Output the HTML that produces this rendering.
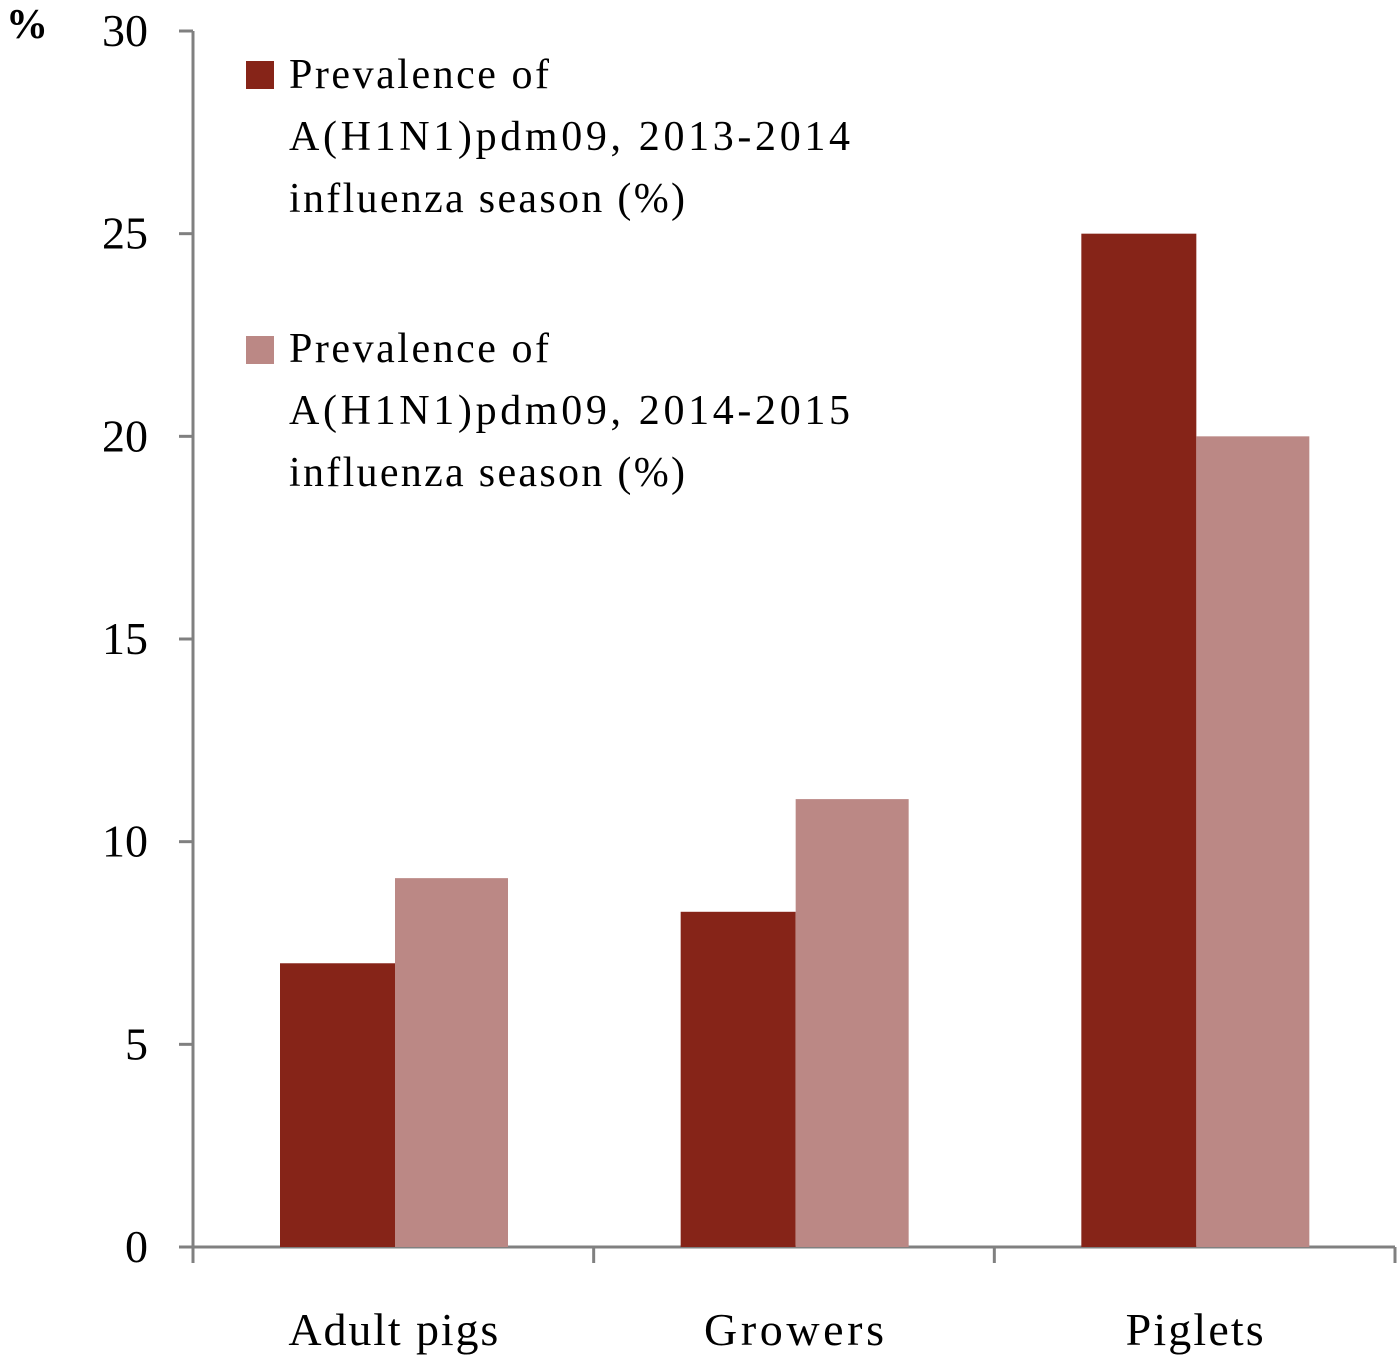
<!DOCTYPE html>
<html><head><meta charset="utf-8"><style>
body{margin:0;background:#fff;}
svg{display:block;font-family:"Liberation Serif",serif;}
</style></head><body>
<svg id="chart" width="1400" height="1367">
<g id="axes"></g><g id="bars"></g>
<text x="6" y="38" font-size="42" font-weight="bold" fill="#000" textLength="40">%</text>
<g>
<rect x="246" y="61" width="28" height="28" fill="#862418"/>
<text font-size="42" fill="#000"><tspan x="289" y="88" textLength="260">Prevalence of</tspan><tspan x="289" y="150" textLength="561">A(H1N1)pdm09, 2013-2014</tspan><tspan x="289" y="212" textLength="396">influenza season (%)</tspan></text>
<rect x="246" y="336" width="28" height="28" fill="#bb8885"/>
<text font-size="42" fill="#000"><tspan x="289" y="362" textLength="260">Prevalence of</tspan><tspan x="289" y="424" textLength="561">A(H1N1)pdm09, 2014-2015</tspan><tspan x="289" y="486" textLength="396">influenza season (%)</tspan></text>
</g>
</svg>
<script>
const categories = ["Adult pigs","Growers","Piglets"];
const season1 = [7.0, 8.27, 25.0];
const season2 = [9.1, 11.05, 20.0];
const yTicks = [0,5,10,15,20,25,30];
const NS="http://www.w3.org/2000/svg";
const x0=193,x1=1395,yBase=1247,yTop=31,yMax=30;
const y=v=>yBase-(v/yMax)*(yBase-yTop);
const catW=(x1-x0)/categories.length;
const catLen=[210,180,138];
const axes=document.getElementById('axes'),bars=document.getElementById('bars');
function mk(t,a,p){const e=document.createElementNS(NS,t);for(const k in a)e.setAttribute(k,a[k]);p.appendChild(e);return e;}
let l=mk('line',{x1:x0,y1:yTop,x2:x0,y2:yBase,stroke:'#808080','stroke-width':3},axes);


l=mk('line',{x1:x0,y1:yBase,x2:x1,y2:yBase,stroke:'#808080','stroke-width':3},axes);


yTicks.forEach(v=>{
 const tk=mk('line',{x1:x0-14,y1:y(v),x2:x0,y2:y(v),stroke:'#808080','stroke-width':3},axes);
 
 
 const t=mk('text',{x:148,y:y(v)+15,'font-size':46,'text-anchor':'end',fill:'#000'},axes);
 t.textContent=v;
 
 
});
for(let i=0;i<=categories.length;i++){
 const tk=mk('line',{x1:x0+i*catW,y1:yBase,x2:x0+i*catW,y2:yBase+16,stroke:'#808080','stroke-width':3},axes);
 
 
}
categories.forEach((c,i)=>{
 const gx=x0+i*catW+87,bw=115;
 const r1=mk('rect',{x:gx,y:y(season1[i]),width:bw,height:yBase-y(season1[i]),fill:'#862418'},bars);
 
 
 const r2=mk('rect',{x:gx+bw,y:y(season2[i]),width:bw-2,height:yBase-y(season2[i]),fill:'#bb8885'},bars);
 
 
 const t=mk('text',{x:x0+(i+0.5)*catW-catLen[i]/2,y:1345,'font-size':46,textLength:catLen[i],fill:'#000'},axes);
 t.textContent=c;
 
 
});
</script>
</body></html>
